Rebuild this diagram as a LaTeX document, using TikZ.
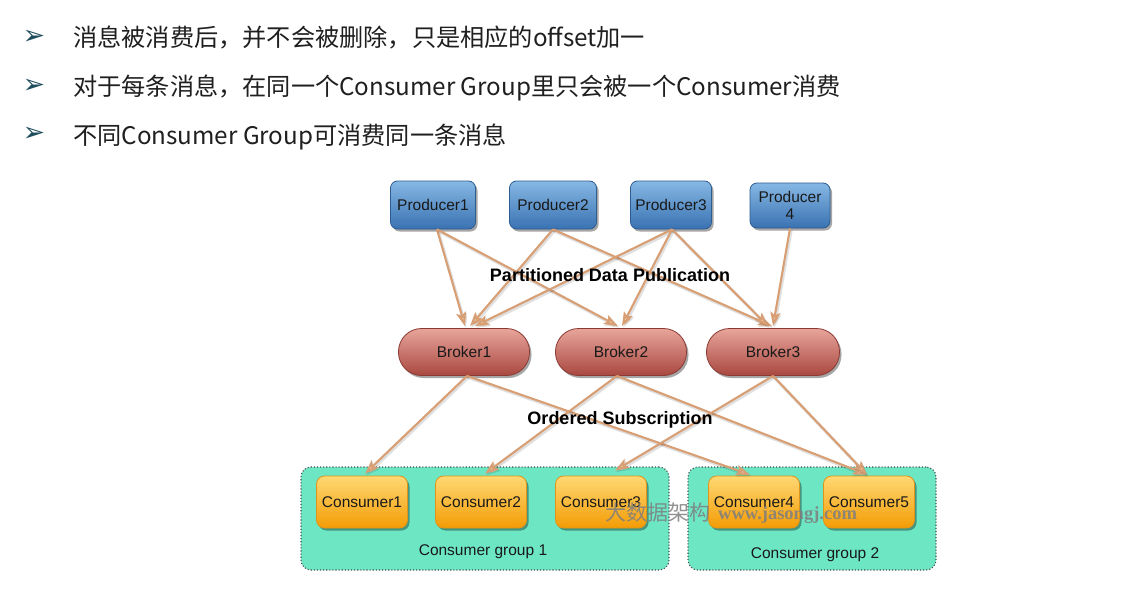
\documentclass[tikz,border=0pt]{standalone}
\usepackage{fontspec}
\setmainfont{Liberation Sans}
\newfontfamily\cjk{Noto Sans CJK SC}
\newfontfamily\wmserif{Liberation Serif}
\newfontfamily\dejavu{DejaVu Sans}
\usetikzlibrary{arrows.meta,shadows}
\definecolor{prodtop}{HTML}{86B8E4}
\definecolor{prodbot}{HTML}{3A72B2}
\definecolor{prodline}{HTML}{2D5C91}
\definecolor{broktop}{HTML}{E8A59B}
\definecolor{brokbot}{HTML}{A94840}
\definecolor{brokline}{HTML}{8A3A33}
\definecolor{constop}{HTML}{FFD873}
\definecolor{consbot}{HTML}{F39C05}
\definecolor{consline}{HTML}{DC951A}
\definecolor{grpfill}{HTML}{6DE6C4}
\definecolor{arrowc}{HTML}{D89F74}
\definecolor{arrowfill}{HTML}{EDC6A3}
\definecolor{bulletc}{HTML}{1E4E5E}
\definecolor{wmgrey}{HTML}{7E7E7E}
\tikzset{
  shad/.style={drop shadow={shadow xshift=2pt, shadow yshift=-2.5pt, opacity=0.35, fill=black}},
  prodbox/.style={shad, draw=prodline, line width=0.8pt, rounded corners=7pt, top color=prodtop, bottom color=prodbot,
    minimum height=48pt, inner sep=0pt, align=center, text=black!90, font=\fontsize{15.5}{15}\selectfont},
  brokbox/.style={shad, draw=brokline, line width=0.8pt, rounded corners=23pt, top color=broktop, bottom color=brokbot,
    minimum width=131pt, minimum height=47pt, inner sep=0pt, text=black!90, font=\fontsize{15.5}{17}\selectfont},
  consbox/.style={shad, draw=consline, line width=0.8pt, rounded corners=8pt, top color=constop, bottom color=consbot,
    minimum width=91pt, minimum height=52pt, inner sep=0pt, text=black!90, font=\fontsize{15.5}{17}\selectfont},
  grpbox/.style={draw=black!70, line width=1.1pt, dash pattern=on 1.1pt off 2pt, fill=grpfill, rounded corners=10pt, inner sep=0pt},
  grplabel/.style={text=black!90, font=\fontsize{15.5}{17}\selectfont},
  flowlabel/.style={text=black, font=\bfseries\fontsize{18}{20}\selectfont},
  flow/.style={draw=arrowc, line width=2.1pt, -{Stealth[length=14pt,width=10pt,inset=3pt,fill=arrowfill]},
    preaction={draw=black, draw opacity=0.12, line width=3pt, transform canvas={shift={(1.2pt,-1.6pt)}}}},
  bullettxt/.style={anchor=base west, text=black!88, font=\cjk\fontsize{24.2}{26}\selectfont, inner sep=0pt},
  bulletmark/.style={text=bulletc, font=\dejavu\fontsize{27}{28}\selectfont, inner sep=0pt},
  wm/.style={anchor=base west, text=wmgrey, opacity=0.85, inner sep=0pt}
}
\begin{document}
\begin{tikzpicture}[x=1pt,y=-1pt]
\useasboundingbox[fill=white] (0,0) rectangle (1134,591);

% bullet lines
\node[bulletmark] (m1) at (34,37) {➢};
\node[bulletmark] (m2) at (34,86) {➢};
\node[bulletmark] (m3) at (34,134) {➢};
\node[bullettxt] (t1) at (73,47) {消息被消费后，并不会被删除，只是相应的offset加一};
\node[bullettxt] (t2) at (73,96) {对于每条消息，在同一个Consumer Group里只会被一个Consumer消费};
\node[bullettxt] (t3) at (73,144) {不同Consumer Group可消费同一条消息};

% consumer groups
\node[grpbox, minimum width=368pt, minimum height=103pt] (g1) at (485,518.5) {};
\node[grpbox, minimum width=248pt, minimum height=103pt] (g2) at (812,518.5) {};
\node[grplabel] (gl1) at (483,552) {Consumer group 1};
\node[grplabel] (gl2) at (815,555) {Consumer group 2};

% producers
\node[prodbox, minimum width=85pt] (p1) at (433,205) {Producer1};
\node[prodbox, minimum width=87pt] (p2) at (553,205) {Producer2};
\node[prodbox, minimum width=81pt] (p3) at (671,205) {Producer3};
\node[prodbox, minimum width=80pt, minimum height=45pt] (p4) at (790,205.5) {Producer\\[2pt]4};

% brokers
\node[brokbox] (b1) at (464,352) {Broker1};
\node[brokbox] (b2) at (621,352) {Broker2};
\node[brokbox, minimum width=133pt] (b3) at (773,352) {Broker3};

% consumers
\node[consbox] (c1) at (362,502) {Consumer1};
\node[consbox] (c2) at (481,502) {Consumer2};
\node[consbox] (c3) at (601,502) {Consumer3};
\node[consbox] (c4) at (754,502) {Consumer4};
\node[consbox] (c5) at (869,502) {Consumer5};

% publication arrows
\draw[flow] ([xshift=4pt]p1.south) -- ([xshift=1pt,yshift=2pt]b1.north);
\draw[flow] ([xshift=4pt]p1.south) -- ([xshift=-3pt,yshift=2pt]b2.north);
\draw[flow] (p2.south) -- ([xshift=6pt,yshift=2pt]b1.north);
\draw[flow] (p2.south) -- ([xshift=-1pt,yshift=2pt]b3.north);
\draw[flow] ([xshift=1pt]p3.south) -- ([xshift=11pt,yshift=2pt]b1.north);
\draw[flow] ([xshift=1pt]p3.south) -- ([xshift=1pt,yshift=2pt]b2.north);
\draw[flow] ([xshift=1pt]p3.south) -- ([xshift=-5pt,yshift=2pt]b3.north);
\draw[flow] (p4.south) -- ([yshift=2pt]b3.north);

% subscription arrows
\draw[flow] ([xshift=3pt]b1.south) -- ([xshift=3pt,yshift=2pt]c1.north);
\draw[flow] ([xshift=3pt]b1.south) -- ([xshift=-4pt,yshift=1pt]c4.north);
\draw[flow] ([xshift=-4pt]b2.south) -- ([xshift=4pt,yshift=2pt]c2.north);
\draw[flow] ([xshift=-4pt]b2.south) -- ([xshift=-2pt,yshift=1pt]c5.north);
\draw[flow] (b3.south) -- ([xshift=14pt,yshift=5pt]c3.north);
\draw[flow] (b3.south) -- ([xshift=-2pt,yshift=1pt]c5.north);

% flow labels
\node[flowlabel] (pl) at (610,275) {Partitioned Data Publication};
\node[flowlabel] (sl) at (620,420) {Ordered Subscription};

% watermark
\node[wm, font=\cjk\fontsize{21}{22}\selectfont] (wm1) at (605,520) {大数据架构};
\node[wm, font=\wmserif\bfseries\fontsize{18.5}{20}\selectfont] (wm2) at (718,519) {www.jasongj.com};
\end{tikzpicture}
\end{document}
